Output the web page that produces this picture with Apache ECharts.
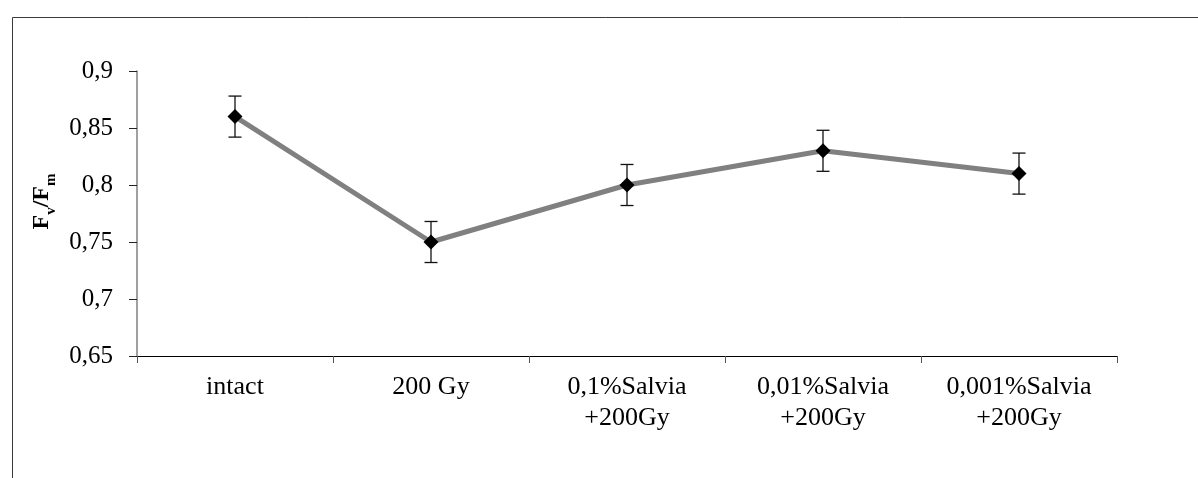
<!DOCTYPE html>
<html>
<head>
<meta charset="utf-8">
<script src="https://cdn.jsdelivr.net/npm/echarts@6/dist/echarts.min.js"></script>
<style>html,body{margin:0;padding:0;background:#fff;}#c{width:1198px;height:478px;}</style>
</head>
<body>
<div id="c"></div>
<script>
const categories = ['intact', '200 Gy', '0,1%Salvia\n+200Gy', '0,01%Salvia\n+200Gy', '0,001%Salvia\n+200Gy'];
const values = [0.86, 0.75, 0.80, 0.83, 0.81];
const errors = [0.018, 0.018, 0.018, 0.018, 0.018];
const yMin = 0.65, yMax = 0.9, yStep = 0.05;

const FONT = '"Liberation Serif", "Times New Roman", serif';
const chart = echarts.init(document.getElementById('c'));
const errData = values.map((v, i) => [i, v - errors[i], v + errors[i]]);

chart.setOption({
  animation: false,
  backgroundColor: '#fff',
  graphic: [{
    type: 'rect', left: 10, top: 15, z: 0,
    shape: { x: 0, y: 0, width: 1300, height: 600 },
    style: { fill: 'none', stroke: '#3a3a3a', lineWidth: 1 }
  }],
  grid: { left: 137, right: 81, top: 71, bottom: 122 },
  xAxis: {
    type: 'category', data: categories, boundaryGap: true,
    axisLine: { lineStyle: { color: '#000', width: 1 } },
    axisTick: { show: true, length: 7, lineStyle: { color: '#555' } },
    axisLabel: { color: '#000', fontFamily: FONT, fontSize: 26, lineHeight: 31, margin: 16, interval: 0 },
    splitLine: { show: false }
  },
  yAxis: {
    type: 'value', min: yMin, max: yMax, interval: yStep,
    name: '{b|F}{s|v}{b|/F}{s|m}',
    nameLocation: 'middle', nameGap: 76, nameRotate: 90,
    nameTextStyle: {
      padding: [0, 0, 0, 24],
      rich: {
        b: { fontFamily: FONT, fontWeight: 'bold', fontSize: 24, color: '#000', lineHeight: 34 },
        s: { fontFamily: FONT, fontWeight: 'bold', fontSize: 15, color: '#000', verticalAlign: 'bottom', lineHeight: 34 }
      }
    },
    axisLine: { show: true, lineStyle: { color: '#808080', width: 1.5 } },
    axisTick: { show: true, length: 8, lineStyle: { color: '#222' } },
    axisLabel: {
      color: '#000', fontFamily: FONT, fontSize: 25, margin: 24,
      formatter: v => String(+v.toFixed(2)).replace('.', ',')
    },
    splitLine: { show: false }
  },
  series: [
    {
      type: 'custom', z: 3,
      data: errData,
      renderItem: function (params, api) {
        const x = api.value(0);
        const lo = api.coord([x, api.value(1)]);
        const hi = api.coord([x, api.value(2)]);
        const w = 6.5;
        const st = { stroke: '#111', lineWidth: 1.3 };
        return {
          type: 'group',
          children: [
            { type: 'line', shape: { x1: lo[0], y1: lo[1], x2: hi[0], y2: hi[1] }, style: st },
            { type: 'line', shape: { x1: lo[0] - w, y1: lo[1], x2: lo[0] + w, y2: lo[1] }, style: st },
            { type: 'line', shape: { x1: hi[0] - w, y1: hi[1], x2: hi[0] + w, y2: hi[1] }, style: st }
          ]
        };
      }
    },
    {
      type: 'line', z: 4, data: values,
      symbol: 'diamond', symbolSize: 15,
      itemStyle: { color: '#000', borderWidth: 0 },
      lineStyle: { color: '#808080', width: 5 }
    }
  ]
});
</script>
</body>
</html>
